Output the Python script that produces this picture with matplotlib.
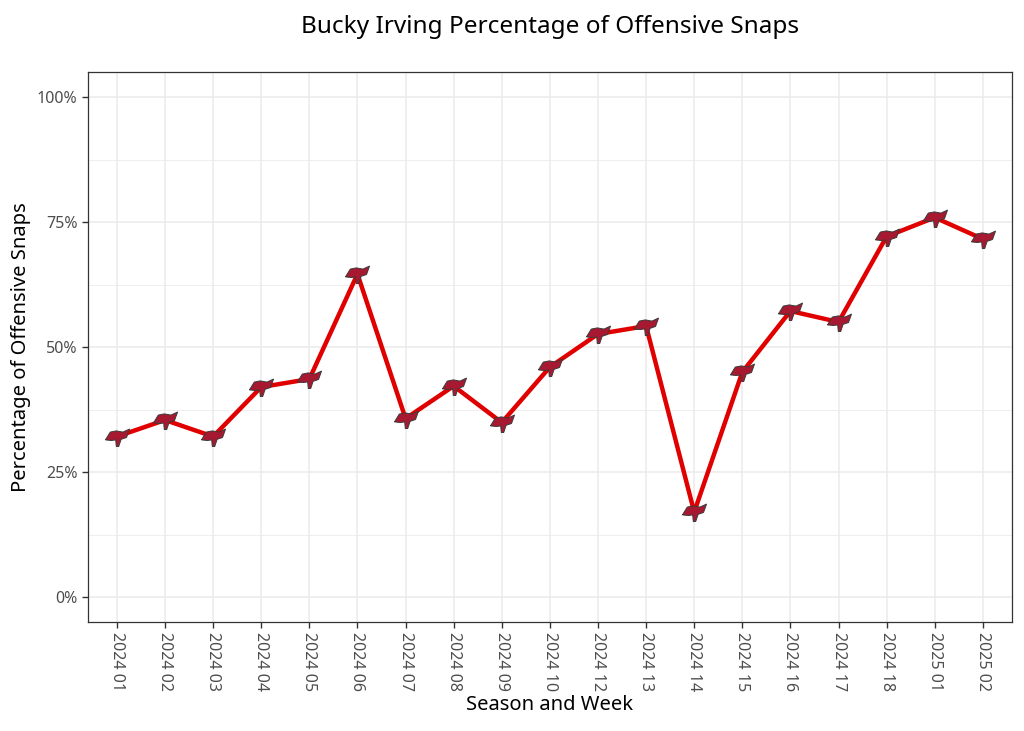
import matplotlib
matplotlib.use("Agg")
import matplotlib.pyplot as plt
from matplotlib.ticker import FuncFormatter, MultipleLocator
import numpy as np

plt.rcParams['font.family'] = ['Noto Sans', 'DejaVu Sans']

# data
weeks = ['2024 01', '2024 02', '2024 03', '2024 04', '2024 05', '2024 06',
         '2024 07', '2024 08', '2024 09', '2024 10', '2024 12', '2024 13',
         '2024 14', '2024 15', '2024 16', '2024 17', '2024 18', '2025 01',
         '2025 02']
snap_pct = [0.321, 0.354, 0.321, 0.420, 0.436, 0.646, 0.357, 0.422, 0.349,
            0.460, 0.526, 0.542, 0.170, 0.450, 0.572, 0.550, 0.721, 0.759,
            0.716]
y_ticks = [0, 0.25, 0.5, 0.75, 1.0]

# rough waving-flag marker outline
flag = [(-1.0, -0.2), (-0.6, 0.45), (-0.1, 0.55), (0.45, 0.45), (1.0, 0.7),
        (0.75, 0.0), (0.3, -0.15), (0.1, -0.75), (-0.1, -0.75), (-0.15, -0.2),
        (-0.5, -0.25), (-1.0, -0.2)]

fig = plt.figure(figsize=(10.24, 7.31), dpi=100)
ax = fig.add_axes([0.086, 0.149, 0.902, 0.7525])

x = np.arange(len(weeks))
ax.plot(x, snap_pct, color='#E00000', linewidth=3.2, zorder=3,
        solid_joinstyle='round')
ax.scatter(x, snap_pct, marker=flag, s=300, facecolor='#A71930',
           edgecolor='#3a3a3a', linewidth=0.7, zorder=4)

ax.set_xlim(-0.6, len(weeks) - 0.4)
ax.set_ylim(-0.05, 1.05)
ax.set_xticks(x)
ax.set_xticklabels(weeks, rotation=270, fontsize=11.5, color='#4D4D4D')
ax.set_yticks(y_ticks)
ax.yaxis.set_minor_locator(MultipleLocator(0.125))
ax.yaxis.set_major_formatter(FuncFormatter(lambda v, p: f"{v * 100:.0f}%"))
ax.tick_params(axis='y', labelsize=11.5, labelcolor='#4D4D4D')
ax.tick_params(axis='both', which='major', length=4, width=1, color='#333333')
ax.tick_params(axis='y', which='minor', length=0)

ax.grid(True, which='major', color='#EBEBEB', linewidth=1.1, zorder=0)
ax.grid(True, which='minor', axis='y', color='#EBEBEB', linewidth=0.6, zorder=0)
ax.set_axisbelow(True)
for s in ax.spines.values():
    s.set_color('#333333')
    s.set_linewidth(0.9)

ax.set_xlabel('Season and Week', fontsize=14.5, labelpad=2)
ax.set_ylabel('Percentage of Offensive Snaps', fontsize=14.5, labelpad=4)
ax.set_title('Bucky Irving Percentage of Offensive Snaps', fontsize=17.5, pad=28)

fig.savefig('out.png', dpi=100)
